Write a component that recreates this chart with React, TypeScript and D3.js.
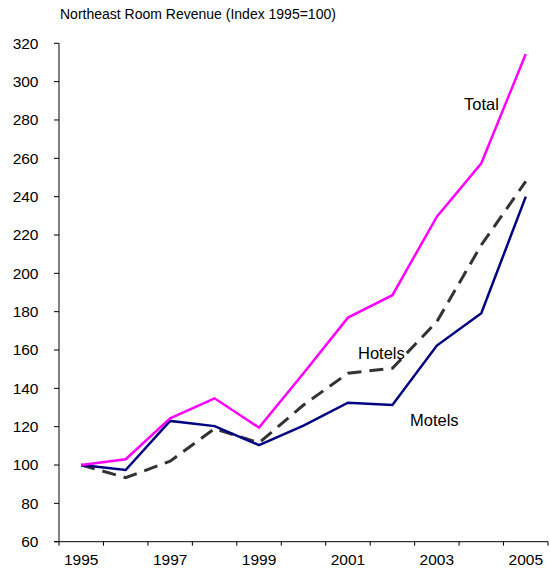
import React from "react";
import * as d3 from "d3";

const years = [1995, 1996, 1997, 1998, 1999, 2000, 2001, 2002, 2003, 2004, 2005];
const total = [100, 103, 124.4, 134.8, 119.5, 147.9, 176.9, 188.6, 229.6, 257.4, 314.4];
const hotels = [100, 93.4, 102, 119, 111.6, 131.3, 147.9, 150.5, 174.8, 214.8, 248];
const motels = [100, 97.4, 123, 120.3, 110.4, 120.5, 132.5, 131.3, 162.3, 179.2, 240];
const yTicks = [60, 80, 100, 120, 140, 160, 180, 200, 220, 240, 260, 280, 300, 320];
const xLabelYears = [1995, 1997, 1999, 2001, 2003, 2005];
const title = "Northeast Room Revenue (Index 1995=100)";

const W = 550;
const H = 575;
const left = 59;
const right = 548;
const top = 43.3;
const bottom = 541.7;
const font = "'Liberation Sans', Arial, sans-serif";

export default function App() {
  const x = d3.scaleBand<number>().domain(years).range([left, right]).padding(0);
  const y = d3.scaleLinear().domain([60, 320]).range([bottom, top]);
  const cx = (yr: number) => (x(yr) as number) + x.bandwidth() / 2;
  const line = d3
    .line<number>()
    .x((_, i) => cx(years[i]))
    .y((v) => y(v));
  const boundaries = years.map((yr) => x(yr) as number).concat([right]);

  return (
    <svg
      width={W}
      height={H}
      style={{ position: "absolute", left: 0, top: 0, background: "#fff" }}
      fontFamily={font}
    >
      <text x={60} y={19} fontSize={14} fill="#000">
        {title}
      </text>
      {/* y axis */}
      <line x1={left} x2={left} y1={top} y2={bottom} stroke="#000" strokeWidth={1} />
      {yTicks.map((t) => (
        <g key={t}>
          <line x1={left - 5} x2={left} y1={y(t)} y2={y(t)} stroke="#000" strokeWidth={1} />
          <text x={38.5} y={y(t)} dy="0.35em" textAnchor="end" fontSize={15.5} fill="#000">
            {t}
          </text>
        </g>
      ))}
      {/* x axis */}
      <line x1={left - 5} x2={right} y1={bottom} y2={bottom} stroke="#000" strokeWidth={1} />
      {boundaries.map((b, i) => (
        <line key={i} x1={b} x2={b} y1={bottom} y2={bottom + 4} stroke="#000" strokeWidth={1} />
      ))}
      {xLabelYears.map((yr) => (
        <text key={yr} x={cx(yr)} y={565} textAnchor="middle" fontSize={15.5} fill="#000">
          {yr}
        </text>
      ))}
      {/* series */}
      <path d={line(hotels) as string} fill="none" stroke="#333333" strokeWidth={3} strokeDasharray="14,8" />
      <path d={line(motels) as string} fill="none" stroke="#000080" strokeWidth={2.5} />
      <path d={line(total) as string} fill="none" stroke="#FF00FF" strokeWidth={2.5} />
      {/* labels */}
      <text x={464} y={110} fontSize={16.5} fill="#000">Total</text>
      <text x={358} y={359} fontSize={16.5} fill="#000">Hotels</text>
      <text x={410} y={426} fontSize={16.5} fill="#000">Motels</text>
    </svg>
  );
}
